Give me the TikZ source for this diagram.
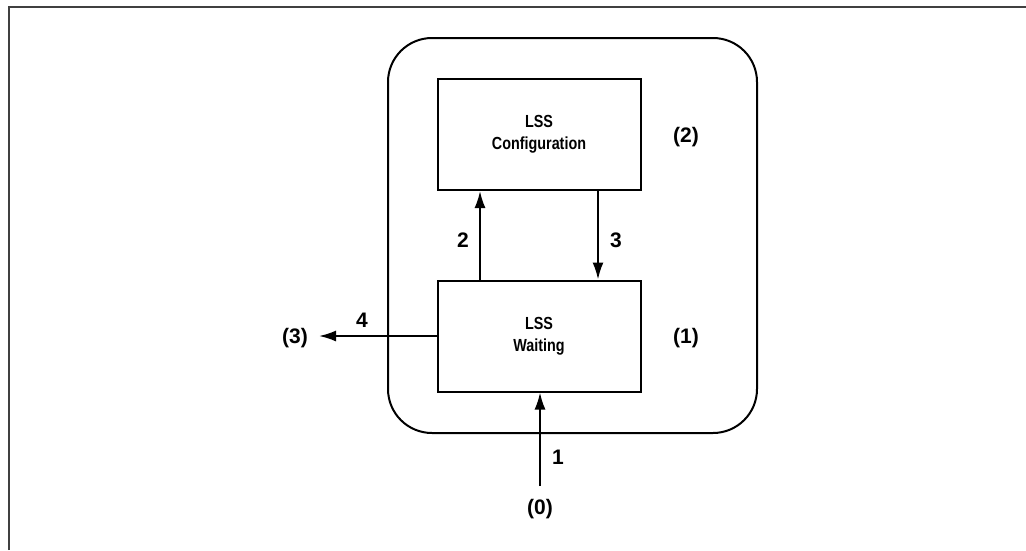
\documentclass[tikz,border=0pt]{standalone}
\usepackage{fontspec}
\setmainfont{Liberation Sans}
\newfontfamily\narrowsans{Liberation Sans}[FakeStretch=0.82]
\usetikzlibrary{arrows.meta}

\begin{document}
\begin{tikzpicture}[x=1pt,y=-1pt,line width=2pt,
  state/.style={draw,minimum width=203pt,minimum height=111pt,align=center,
    font=\narrowsans\bfseries\fontsize{17.5}{22}\selectfont},
  lbl/.style={font=\bfseries\fontsize{21}{24}\selectfont},
  >={Latex[length=17pt,width=11pt]}]
\useasboundingbox (0,0) rectangle (1026,550);

% Open frame - only top and left edge
\draw[black!75,line width=2.6pt] (9,550) -- (9,7) -- (1026,7);

% Rounded container round both states
\draw[rounded corners=44pt] (388,38) rectangle (757,433);

% States
\node[state] (config) at (539,134.5) {LSS\\Configuration};
\node[state] (wait) at (539,336) {LSS\\Waiting};
\node[lbl] (num2) at (686,137) {(2)};
\node[lbl] (num1) at (686,338) {(1)};

% Free ends outside the container
\node[lbl] (num0) at (540,509) {(0)};
\node[lbl] (num3) at (295,338) {(3)};
\coordinate (in0) at (540,486);
\coordinate (out3) at (319,336);

% Transitions
\draw[->] (in0) -- (wait.south -| in0);
\draw[->] ([xshift=-59pt]wait.north) -- ([xshift=-59pt]config.south);
\draw[->] ([xshift=59pt]config.south) -- ([xshift=59pt]wait.north);
\draw[->] (wait.west) -- (out3);
\node[lbl] at (558,457) {1};
\node[lbl] at (463,240) {2};
\node[lbl] at (616,240) {3};
\node[lbl] at (362,320) {4};

\end{tikzpicture}
\end{document}
